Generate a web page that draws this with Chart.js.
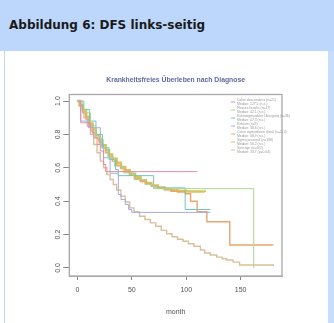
<!DOCTYPE html>
<html>
<head>
<meta charset="utf-8">
<script src="https://cdn.jsdelivr.net/npm/chart.js@4.4.0/dist/chart.umd.min.js"></script>
<style>
html, body { margin: 0; padding: 0; width: 334px; height: 323px; overflow: hidden; background: #fff; }
#head { position: absolute; left: 0; top: 0; width: 334px; height: 51px; background: #bcd7fb; }
#head h1 { margin: 0; position: absolute; left: 9px; top: 18px; font: bold 12px "DejaVu Sans", sans-serif; color: #1a1a1a; }
#side { position: absolute; left: 328px; top: 51px; width: 6px; height: 272px; background: #c6ddfc; }
#lline { position: absolute; left: 4px; top: 51px; width: 1px; height: 272px; background: #bcd7fb; }
#wrap { position: absolute; left: 5px; top: 51px; width: 323px; height: 272px; }
</style>
</head>
<body>
<div id="head"><h1>Abbildung 6: DFS links-seitig</h1></div>
<div id="lline"></div>
<div id="side"></div>
<div id="wrap"><canvas id="c" width="323" height="272"></canvas></div>
<script>
"use strict";

// ── Data (Kaplan-Meier steps: month, survival)
const pinkT   = [0, 3, 12, 15, 18, 21, 24, 26, 110];
const pinkS   = [1, 0.87, 0.82, 0.78, 0.74, 0.70, 0.62, 0.577, 0.577];
const greenT  = [0, 6, 12, 17, 22, 28, 34, 42, 52, 62, 70, 162];
const greenS  = [1, 0.93, 0.85, 0.78, 0.72, 0.66, 0.61, 0.57, 0.53, 0.50, 0.475, 0.0];
const tealT   = [0, 5, 11, 17, 23, 29, 35, 37.5, 70, 99, 122];
const tealS   = [1, 0.95, 0.88, 0.80, 0.72, 0.65, 0.59, 0.553, 0.48, 0.35, 0.35];
const blueT   = [0, 3, 10, 21, 24, 30, 37.6, 40, 44, 47, 50, 122];
const blueS   = [1, 0.88, 0.84, 0.74, 0.66, 0.567, 0.44, 0.41, 0.38, 0.35, 0.333, 0.333];
const orangeT = [0, 2, 5, 8, 11, 14, 17, 20, 23, 26, 29, 32, 36, 40, 44, 48, 53, 58, 63, 68, 74, 80, 86, 92, 99, 104, 110, 119, 140, 180];
const orangeS = [1, 0.97, 0.93, 0.89, 0.85, 0.81, 0.78, 0.75, 0.72, 0.69, 0.665, 0.64, 0.615, 0.595, 0.575, 0.555, 0.535, 0.518, 0.503, 0.49, 0.478, 0.468, 0.46, 0.455, 0.445, 0.40, 0.337, 0.277, 0.138, 0.138];
const yellowT = [0, 2, 5, 8, 11, 14, 17, 20, 23, 26, 29, 32, 36, 40, 44, 48, 53, 58, 63, 68, 74, 80, 86, 92, 100, 117];
const yellowS = [1, 0.975, 0.94, 0.905, 0.865, 0.83, 0.795, 0.765, 0.735, 0.705, 0.68, 0.655, 0.63, 0.605, 0.585, 0.565, 0.545, 0.525, 0.51, 0.495, 0.482, 0.472, 0.466, 0.462, 0.458, 0.455];
const tanT    = [0, 3, 6, 9, 12, 15, 18, 21, 24, 27, 30, 33, 36, 40, 44, 48, 52, 57, 62, 67, 72, 77, 82, 87, 92, 97, 102, 107, 113, 117, 122, 128, 133, 137, 143, 149, 180];
const tanS    = [1, 0.95, 0.90, 0.85, 0.80, 0.74, 0.69, 0.64, 0.60, 0.56, 0.53, 0.50, 0.467, 0.43, 0.395, 0.36, 0.335, 0.31, 0.29, 0.27, 0.25, 0.225, 0.205, 0.187, 0.172, 0.16, 0.145, 0.13, 0.108, 0.09, 0.078, 0.065, 0.055, 0.048, 0.035, 0.018, 0.012];

const xTicks = [0, 50, 100, 150];
const yTicks = [0, 0.2, 0.4, 0.6, 0.8, 1.0];
const yTickLabels = ["0.0", "0.2", "0.4", "0.6", "0.8", "1.0"];

const legendNames = [
  ["Colon descendens (n=21)", "Median: 127.5 (n.e.)"],
  ["Flexura lienalis (n=17)", "Median: 42.1 (n.e.)"],
  ["Rektosigmoidaler Übergang (n=36)", "Median: 47.3 (n.s.)"],
  ["Rektum (n=9)", "Median: 38.6 (n.s.)"],
  ["Colon sigmoideum distal (n=214)", "Median: 48.9 (n.s.)"],
  ["Sigma proximal (n=188)", "Median: 56.2 (n.s.)"],
  ["Sonstige (n=402)", "Median: 33.7 (p=0.04)"],
];

// ── Series styling
const series = [
  { t: pinkT,   s: pinkS,   color: "#e58ca2", w: 1   },
  { t: greenT,  s: greenS,  color: "#a8d98c", w: 1   },
  { t: tealT,   s: tealS,   color: "#72c6be", w: 1   },
  { t: blueT,   s: blueS,   color: "#a6aae6", w: 1   },
  { t: orangeT, s: orangeS, color: "#eba56e", w: 1.4 },
  { t: yellowT, s: yellowS, color: "#d8c35e", w: 2.4 },
  { t: tanT,    s: tanS,    color: "#d9c09c", w: 1.4 },
];

const datasets = series.map(d => ({
  data: d.t.map((x, i) => ({ x, y: d.s[i] })),
  borderColor: d.color,
  borderWidth: d.w,
  stepped: "before",
  pointRadius: 0,
  fill: false,
}));

// ── Extra drawing: box, title, y labels, axis title, legend
const decor = {
  id: "decor",
  afterDraw(chart) {
    const ctx = chart.ctx, a = chart.chartArea, ys = chart.scales.y;
    ctx.save();
    ctx.strokeStyle = "#a8a8a8";
    ctx.lineWidth = 1.3;
    ctx.strokeRect(a.left, a.top, a.right - a.left, a.bottom - a.top);

    ctx.fillStyle = "#5d6ca3";
    ctx.font = "bold 6.8px 'Liberation Sans', sans-serif";
    ctx.textAlign = "center";
    ctx.textBaseline = "middle";
    ctx.fillText("Krankheitsfreies Überleben nach Diagnose", (a.left + a.right) / 2, 29);

    ctx.fillStyle = "#555";
    ctx.font = "7px 'Liberation Sans', sans-serif";
    ctx.fillText("month", (a.left + a.right) / 2, 261);

    yTicks.forEach((v, i) => {
      ctx.save();
      ctx.translate(53, ys.getPixelForValue(v));
      ctx.rotate(-Math.PI / 2);
      ctx.fillText(yTickLabels[i], 0, 0);
      ctx.restore();
    });

    ctx.font = "3.4px 'Liberation Sans', sans-serif";
    ctx.textAlign = "left";
    legendNames.forEach((lines, i) => {
      const y0 = 49 + i * 8;
      ctx.strokeStyle = series[i].color;
      ctx.lineWidth = 1;
      ctx.beginPath();
      ctx.moveTo(226, y0 + 2);
      ctx.lineTo(230, y0 + 2);
      ctx.stroke();
      ctx.fillStyle = "#9a9a9a";
      ctx.fillText(lines[0], 232, y0);
      ctx.fillText(lines[1], 232, y0 + 4);
    });
    ctx.restore();
  },
};

new Chart(document.getElementById("c").getContext("2d"), {
  type: "line",
  data: { datasets },
  plugins: [decor],
  options: {
    responsive: false,
    animation: false,
    layout: { padding: { top: 43.5, right: 46, left: 0, bottom: 0 } },
    plugins: { legend: { display: false }, tooltip: { enabled: false } },
    scales: {
      x: {
        type: "linear", min: -7.5, max: 188,
        afterBuildTicks: s => { s.ticks = xTicks.map(v => ({ value: v })); },
        afterFit: s => { s.height = 47; },
        grid: { drawOnChartArea: false, color: "#888", tickLength: 4 },
        border: { display: true, color: "#a8a8a8" },
        ticks: { color: "#555", font: { size: 7, family: "Liberation Sans" }, padding: 6, maxRotation: 0 },
      },
      y: {
        type: "linear", min: -0.048, max: 1.039,
        afterBuildTicks: s => { s.ticks = yTicks.map(v => ({ value: v })); },
        afterFit: s => { s.width = 64.3; },
        grid: { drawOnChartArea: false, color: "#888", tickLength: 6 },
        border: { display: true, color: "#a8a8a8" },
        ticks: { display: false },
      },
    },
  },
});
</script>
</body>
</html>
